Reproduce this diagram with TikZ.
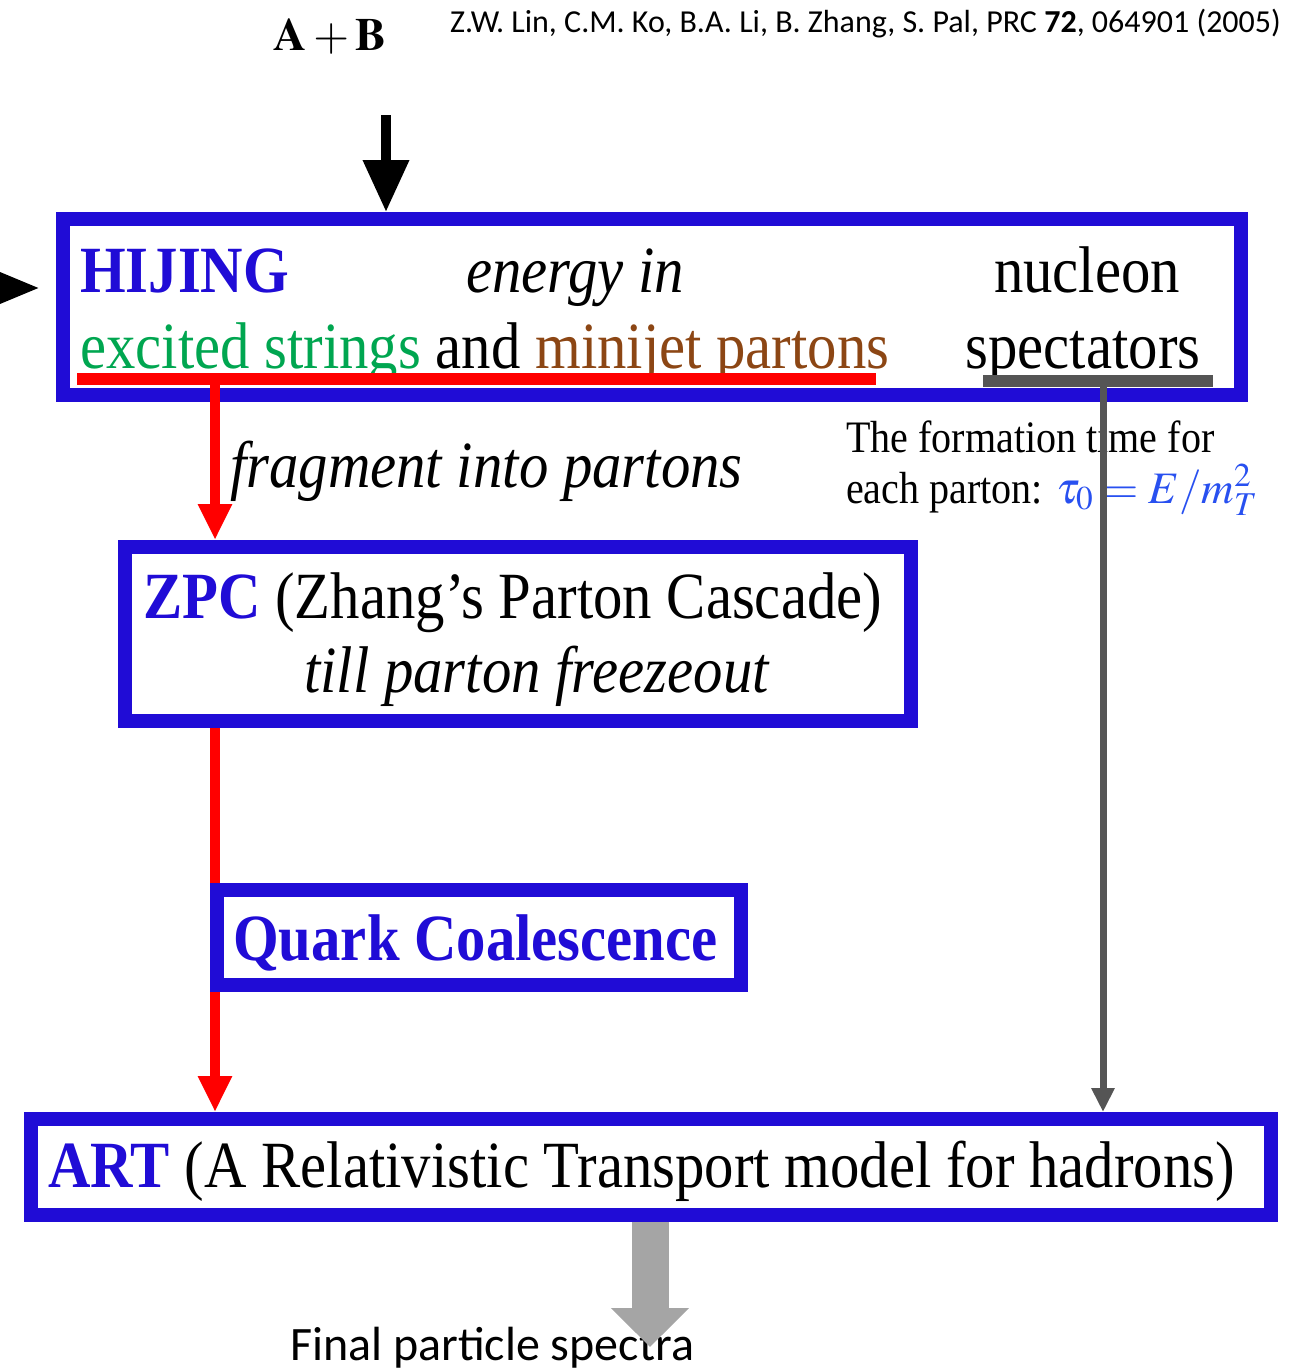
\documentclass[tikz,border=0pt]{standalone}
\usepackage{mathptmx}
\usepackage{fontspec}
\setmainfont{Liberation Serif}[FakeStretch=0.89]
\newfontfamily\calibri{Carlito}
\usetikzlibrary{arrows.meta, positioning}

\definecolor{boxblue}{RGB}{32,12,214}
\definecolor{strgreen}{RGB}{0,166,80}
\definecolor{jetbrown}{RGB}{140,70,20}
\definecolor{mathblue}{RGB}{40,80,240}
\definecolor{linegray}{RGB}{85,85,85}
\definecolor{outgray}{RGB}{165,165,165}

\tikzset{
  box/.style={draw=boxblue, line width=14pt, rectangle, inner sep=0pt},
  txt/.style={font=\fontsize{66}{70}\selectfont, inner sep=0pt},
  note/.style={font=\fontsize{45}{50}\selectfont, inner sep=0pt},
  redarrow/.style={-{Triangle[width=32pt,length=36pt]}, red, line width=10pt},
}

\begin{document}
\begin{tikzpicture}[x=1pt, y=-1pt]
        \useasboundingbox (0,0) rectangle (1292,1368);
        \clip (0,0) rectangle (1292,1368);

        % header
        \node[anchor=base, inner sep=0pt, font=\fontsize{46}{50}\selectfont] (AB) at (330,50) {$\mathbf{A+B}$};
        \node[anchor=base east, inner sep=0pt, font=\calibri\fontsize{32}{36}\selectfont] (ref) at (1281,32)
             {Z.W. Lin, C.M. Ko, B.A. Li, B. Zhang, S. Pal, PRC \textbf{72}, 064901 (2005)};

        % boxes
        \node[box, minimum width=1178pt, minimum height=176pt] (hijing) at (652,307) {};
        \node[box, minimum width=786pt, minimum height=174pt] (zpc) at (518,634) {};
        \node[box, minimum width=524pt, minimum height=95pt] (qc) at (479,937.5) {};
        \node[box, minimum width=1240pt, minimum height=96pt] (art) at (651,1167) {};

        % texts in the boxes
        \node[txt, anchor=base west, text=boxblue] (hname) at (80,292) {\textbf{HIJING}};
        \node[txt, anchor=base] (energy) at (575,292) {\textit{energy in}};
        \node[txt, anchor=base] (nucleon) at (1087,292) {nucleon};
        \node[txt, anchor=base west] (strings) at (80,368)
             {{\color{strgreen}excited strings} and {\color{jetbrown}minijet partons}};
        \node[txt, anchor=base] (spect) at (1083,368) {spectators};

        \node[txt, anchor=base west] (zname) at (143,618) {{\color{boxblue}\textbf{ZPC}} (Zhang’s Parton Cascade)};
        \node[txt, anchor=base] (freeze) at (537,692) {\textit{till parton freezeout}};

        \node[txt, anchor=base west, text=boxblue] (qname) at (233,960) {\textbf{Quark Coalescence}};

        \node[txt, anchor=base west] (aname) at (48,1187) {{\color{boxblue}\textbf{ART}} (A Relativistic Transport model for hadrons)};

        \node[txt, anchor=base west] (frag) at (230,487) {\textit{fragment into partons}};
        \node[note, anchor=base west] (form) at (846,452) {The formation time for};
        \node[note, anchor=base west] (form2) at (846,503) {each parton: {\color{mathblue}$\tau_0 = E/m_T^2$}};

        \node[anchor=base west, inner sep=0pt, font=\calibri\fontsize{48}{52}\selectfont] (final) at (290,1360) {Final particle spectra};

        % underlines
        \coordinate (redL) at (77,379);
        \coordinate (redR) at (876,379);
        \coordinate (grayL) at (983,381);
        \coordinate (grayR) at (1213,381);
        \draw[red, line width=12pt] (redL) -- (redR);
        \draw[linegray, line width=12pt] (grayL) -- (grayR);

        % connectors
        \coordinate (entry) at (386,115);
        \coordinate (feed) at (-80,288);
        \coordinate (fragtop) at (215,379);
        \coordinate (spectop) at (1103,381);
        \coordinate (out) at (650,1347);

        \draw[-{Triangle[width=44pt,length=52pt]}, line width=10pt] (entry) -- (entry |- hijing.north);
        \draw[-{Triangle[width=32pt,length=44pt]}, line width=10pt, shorten >=16pt] (feed) -- (feed -| hijing.west);
        \draw[redarrow] (fragtop) -- (fragtop |- zpc.north);
        \draw[red, line width=10pt] (fragtop |- zpc.south) -- (fragtop |- qc.north);
        \draw[redarrow] (fragtop |- qc.south) -- (fragtop |- art.north);
        \draw[-{Triangle[width=22pt,length=24pt]}, linegray, line width=7pt] (spectop) -- (spectop |- art.north);
        \draw[-{Triangle[width=76pt,length=39pt]}, outgray, line width=37pt] (out |- art.south) -- (out);
\end{tikzpicture}
\end{document}
